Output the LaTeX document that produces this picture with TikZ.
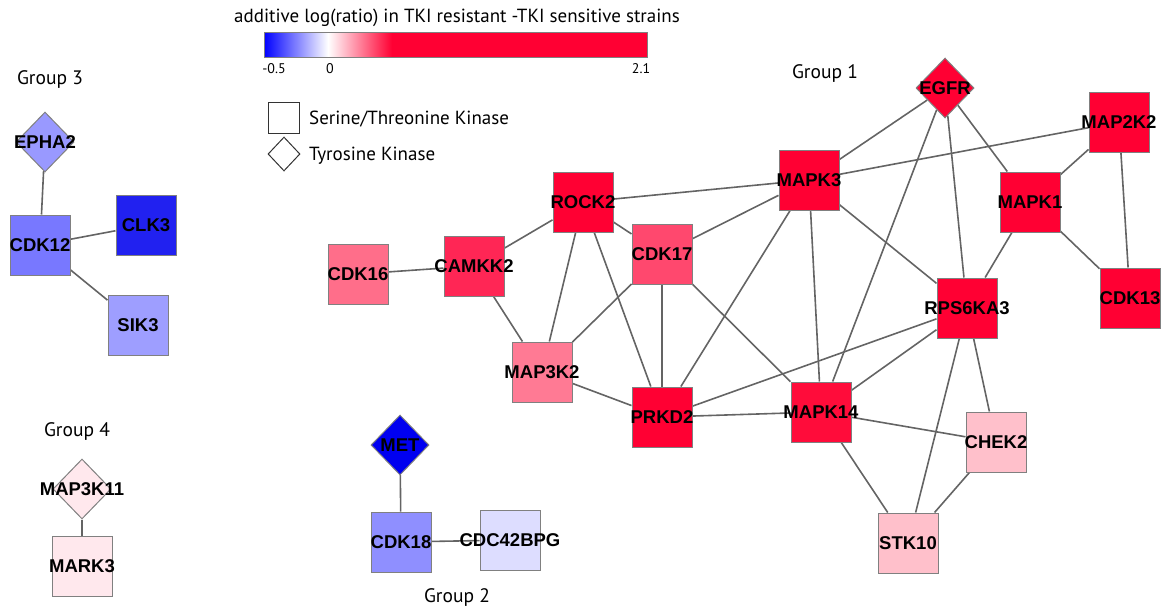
\documentclass[tikz,border=0pt]{standalone}
\usepackage{fontspec}
\setmainfont{PT Sans}
\newfontfamily\lab{Liberation Sans}
\usetikzlibrary{shapes.geometric}
\pgfdeclarelayer{background}
\pgfsetlayers{background,main}
\definecolor{cRed}{RGB}{255,0,51}
\definecolor{cRedB}{RGB}{255,12,58}
\definecolor{cCamkk}{RGB}{255,38,85}
\definecolor{cCdkSeventeen}{RGB}{255,72,110}
\definecolor{cCdkSixteen}{RGB}{255,110,138}
\definecolor{cMapThree}{RGB}{255,122,148}
\definecolor{cPink}{RGB}{255,192,203}
\definecolor{cPale}{RGB}{255,232,237}
\definecolor{cLav}{RGB}{221,221,255}
\definecolor{cCdkEighteen}{RGB}{143,143,255}
\definecolor{cCdkTwelve}{RGB}{120,120,255}
\definecolor{cEpha}{RGB}{153,153,255}
\definecolor{cSik}{RGB}{158,158,255}
\definecolor{cClk}{RGB}{33,33,240}
\definecolor{cMet}{RGB}{0,0,240}
\definecolor{bordergray}{RGB}{128,128,128}
\definecolor{edgegray}{RGB}{100,100,100}
\begin{document}
\begin{tikzpicture}[x=1pt,y=-1pt,
  kbase/.style={draw=bordergray, line width=1pt, inner sep=0pt},
  ksq/.style={kbase, rectangle, minimum size=60pt},
  kdi/.style={kbase, diamond, minimum width=58pt, minimum height=60pt},
  lbl/.style={inner sep=0pt, font=\lab\bfseries\fontsize{18.5}{18.5}\selectfont},
  txt/.style={inner sep=0pt, font=\fontsize{19}{19}\selectfont},
  grp/.style={inner sep=0pt, font=\fontsize{19.5}{19.5}\selectfont},
  edge/.style={draw=edgegray, line width=1.6pt}]
\useasboundingbox (0,0) rectangle (1167,611);
% colour bar
\node[txt, anchor=center] (title) at (457,18) {additive log(ratio) in TKI resistant -TKI sensitive strains};
\shade[left color=blue, right color=white] (264,32) rectangle (328,57);
\shade[left color=white, right color=cRed] (328,32) rectangle (392,57);
\fill[cRed] (392,32) rectangle (647,57);
\draw[bordergray, line width=0.8pt] (264,32) rectangle (647,57);
\node[txt, font=\fontsize{14}{14}\selectfont] (lmin) at (274,69) {-0.5};
\node[txt, font=\fontsize{14}{14}\selectfont] (lzero) at (330,69) {0};
\node[txt, font=\fontsize{14}{14}\selectfont] (lmax) at (641,69) {2.1};
% legend
\node[kbase, rectangle, draw=black!80, minimum size=31pt] (legsq) at (284,118) {};
\node[txt, anchor=west] (legsqt) at (309,119) {Serine/Threonine Kinase};
\node[kbase, diamond, draw=black!80, minimum width=32pt, minimum height=34pt] (legdi) at (284,154) {};
\node[txt, anchor=west] (legdit) at (309,156) {Tyrosine Kinase};
% group labels
\node[grp] (g1) at (825,74) {Group 1};
\node[grp] (g2) at (457,597) {Group 2};
\node[grp] (g3) at (50,80) {Group 3};
\node[grp] (g4) at (77,431) {Group 4};
% group 3
\node[kdi, fill=cEpha, label={[lbl]center:EPHA2}] (epha2) at (45,142) {};
\node[ksq, fill=cCdkTwelve, label={[lbl]center:CDK12}] (cdk12) at (40,245) {};
\node[ksq, fill=cClk, label={[lbl]center:CLK3}] (clk3) at (146,225) {};
\node[ksq, fill=cSik, label={[lbl]center:SIK3}] (sik3) at (138,325) {};
% group 4
\node[kdi, fill=cPale, label={[lbl]center:MAP3K11}] (map3k11) at (82,489) {};
\node[ksq, fill=cPale, label={[lbl]center:MARK3}] (mark3) at (82,566) {};
% group 2
\node[kdi, fill=cMet, label={[lbl]center:MET}] (met) at (400,445) {};
\node[ksq, fill=cCdkEighteen, label={[lbl]center:CDK18}] (cdk18) at (401,542) {};
\node[ksq, fill=cLav, label={[lbl]center:CDC42BPG}] (cdc42bpg) at (510,540) {};
% group 1
\node[kdi, fill=cRed, label={[lbl]center:EGFR}] (egfr) at (945,88) {};
\node[ksq, fill=cRed, label={[lbl]center:MAP2K2}] (map2k2) at (1119,122) {};
\node[ksq, fill=cRed, label={[lbl]center:MAPK1}] (mapk1) at (1030,202) {};
\node[ksq, fill=cRed, label={[lbl]center:CDK13}] (cdk13) at (1130,298) {};
\node[ksq, fill=cRed, label={[lbl]center:RPS6KA3}] (rps6ka3) at (967,308) {};
\node[ksq, fill=cRed, label={[lbl]center:MAPK3}] (mapk3) at (809,180) {};
\node[ksq, fill=cRed, label={[lbl]center:ROCK2}] (rock2) at (583,202) {};
\node[ksq, fill=cCdkSeventeen, label={[lbl]center:CDK17}] (cdk17) at (662,254) {};
\node[ksq, fill=cCamkk, label={[lbl]center:CAMKK2}] (camkk2) at (474,266) {};
\node[ksq, fill=cCdkSixteen, label={[lbl]center:CDK16}] (cdk16) at (358,274) {};
\node[ksq, fill=cMapThree, label={[lbl]center:MAP3K2}] (map3k2) at (542,372) {};
\node[ksq, fill=cRed, label={[lbl]center:PRKD2}] (prkd2) at (662,417) {};
\node[ksq, fill=cRedB, label={[lbl]center:MAPK14}] (mapk14) at (821,412) {};
\node[ksq, fill=cPink, label={[lbl]center:CHEK2}] (chek2) at (996,442) {};
\node[ksq, fill=cPink, label={[lbl]center:STK10}] (stk10) at (908,543) {};
\begin{pgfonlayer}{background}
\draw[edge] (epha2) -- (cdk12);
\draw[edge] (cdk12) -- (clk3);
\draw[edge] (cdk12) -- (sik3);
\draw[edge] (map3k11) -- (mark3);
\draw[edge] (met) -- (cdk18);
\draw[edge] (cdk18) -- (cdc42bpg);
\draw[edge] (egfr) -- (mapk3);
\draw[edge] (egfr) -- (mapk1);
\draw[edge] (egfr) -- (rps6ka3);
\draw[edge] (egfr) -- (mapk14);
\draw[edge] (map2k2) -- (mapk3);
\draw[edge] (map2k2) -- (mapk1);
\draw[edge] (map2k2) -- (cdk13);
\draw[edge] (mapk1) -- (cdk13);
\draw[edge] (mapk1) -- (rps6ka3);
\draw[edge] (mapk3) -- (rock2);
\draw[edge] (mapk3) -- (cdk17);
\draw[edge] (mapk3) -- (prkd2);
\draw[edge] (mapk3) -- (mapk14);
\draw[edge] (mapk3) -- (rps6ka3);
\draw[edge] (rock2) -- (camkk2);
\draw[edge] (rock2) -- (cdk17);
\draw[edge] (rock2) -- (map3k2);
\draw[edge] (rock2) -- (prkd2);
\draw[edge] (camkk2) -- (cdk16);
\draw[edge] (camkk2) -- (map3k2);
\draw[edge] (cdk17) -- (map3k2);
\draw[edge] (cdk17) -- (prkd2);
\draw[edge] (cdk17) -- (mapk14);
\draw[edge] (map3k2) -- (prkd2);
\draw[edge] (prkd2) -- (mapk14);
\draw[edge] (prkd2) -- (rps6ka3);
\draw[edge] (mapk14) -- (rps6ka3);
\draw[edge] (mapk14) -- (chek2);
\draw[edge] (mapk14) -- (stk10);
\draw[edge] (rps6ka3) -- (chek2);
\draw[edge] (rps6ka3) -- (stk10);
\draw[edge] (chek2) -- (stk10);
\end{pgfonlayer}
\end{tikzpicture}
\end{document}
